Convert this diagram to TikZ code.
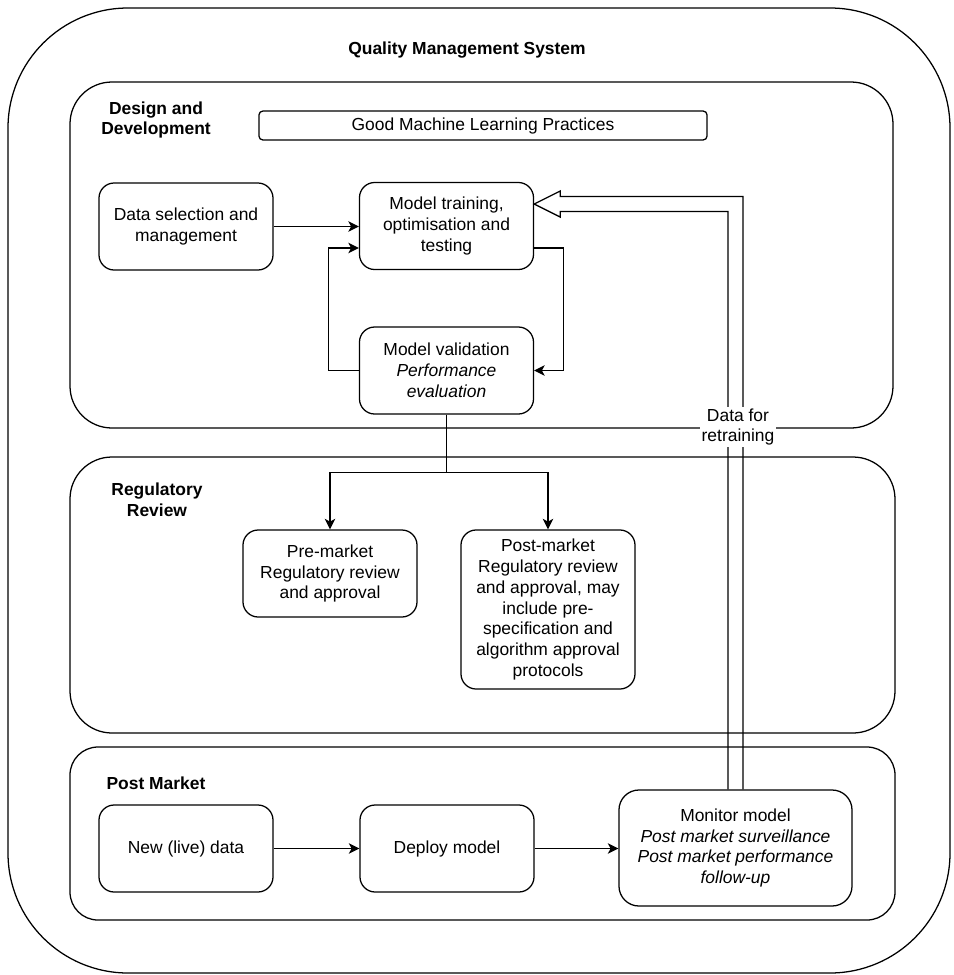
\documentclass[tikz,border=0pt]{standalone}
\usepackage{fontspec}
\setmainfont{Liberation Sans}
\usetikzlibrary{arrows.meta,calc}
\begin{document}
\begin{tikzpicture}[x=0.025cm,y=-0.025cm,line width=0.9pt,
    font=\fontsize{12.4}{14.9}\selectfont,
    box/.style={draw,rounded corners=0.38cm,minimum width=4.35cm,minimum height=2.175cm,align=center,inner sep=2pt},
    grp/.style={draw,rounded corners=1.05cm},
    head/.style={font=\fontsize{12.4}{14.9}\selectfont\bfseries,align=center},
    flow/.style={-{Stealth[length=7.5pt,width=7.5pt,inset=2pt]}}]
    \useasboundingbox (0,0) rectangle (954,975);
    \draw[rounded corners=3cm] (8,8) rectangle (950,973);
    \draw[grp] (70,82) rectangle (893,428);
    \draw[grp] (70,457) rectangle (895,733);
    \draw[grp,rounded corners=0.7cm] (70,747) rectangle (895,920);
    \node[head] (qmstitle) at (467,50) {Quality Management System};
    \node[head] (ddtitle) at (156,120) {Design and\\Development};
    \node[head] (rrtitle) at (157,500) {Regulatory\\Review};
    \node[head] (pmtitle) at (156,783) {Post Market};
    \node[draw,rounded corners=0.1cm,minimum width=11.2cm,minimum height=0.725cm] (gmlp) at (483,125.5) {Good Machine Learning Practices};
    \node[box] (datasel) at (186,226.5) {Data selection and\\management};
    \node[box] (train) at (446.5,226) {Model training,\\optimisation and\\testing};
    \node[box] (valid) at (446.5,370.5) {Model validation\\\textit{Performance}\\\textit{evaluation}};
    \node[box] (premkt) at (330,573.5) {Pre-market\\Regulatory review\\and approval};
    \node[box,minimum height=3.975cm] (postmkt) at (548,609.5) {Post-market\\Regulatory review\\and approval, may\\include pre-\\specification and\\algorithm approval\\protocols};
    \node[box] (newdata) at (186,848.5) {New (live) data};
    \node[box] (deploy) at (447,848.5) {Deploy model};
    \node[box,minimum width=5.825cm,minimum height=2.9cm,rounded corners=0.5cm] (monitor) at (735.5,848) {Monitor model\\\textit{Post market surveillance}\\\textit{Post market performance}\\\textit{follow-up}};
    \draw[flow] (datasel.east) -- (datasel.east -| train.west);
    \draw[flow] (valid.west) -- ++(-30,0) |- ($(train.west)+(0,22)$);
    \draw[flow] ($(train.east)+(0,22)$) -- ++(29,0) |- (valid.east);
    \draw[flow] (valid.south) -- ++(0,58) -| (premkt.north);
    \draw[flow] (valid.south) -- ++(0,58) -| (postmkt.north);
    \draw[flow] (newdata) -- (deploy);
    \draw[flow] (deploy.east) -- (deploy.east -| monitor.west);
    \coordinate (rtip) at ($(train.east)+(0,-22)$);
    \draw ($(monitor.north)+(7.5,0)$) |- ($(rtip)+(26,-7.5)$) -- ++(0,-5.5) -- (rtip)
        -- ++(26,13) -- ++(0,-5.5) -| ($(monitor.north)+(-7.5,0)$);
    \node[fill=white,inner sep=1pt,align=center] (retrain) at (738,427) {Data for\\retraining};
\end{tikzpicture}
\end{document}
